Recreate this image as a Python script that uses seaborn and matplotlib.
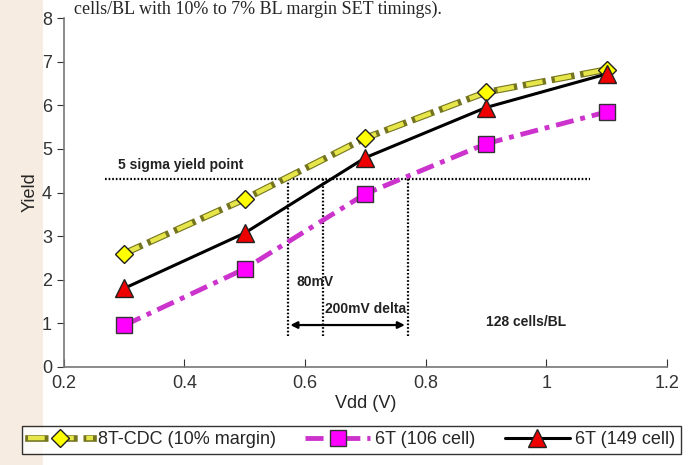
import matplotlib
matplotlib.use("Agg")
import matplotlib.pyplot as plt
from matplotlib.patches import Rectangle
import seaborn as sns
import pandas as pd

vdd = [0.3, 0.5, 0.7, 0.9, 1.1]
y_8t_cdc = [2.6, 3.85, 5.25, 6.3, 6.82]
y_6t_106 = [0.95, 2.25, 3.97, 5.12, 5.85]
y_6t_149 = [1.8, 3.07, 4.8, 5.95, 6.72]
series_names = ["8T-CDC (10% margin)", "6T (106 cell)", "6T (149 cell)"]

sigma_level = 4.3
v_marks = [0.571, 0.63, 0.77]
x_ticks = [0.2, 0.4, 0.6, 0.8, 1.0, 1.2]
x_ticklabels = ["0.2", "0.4", "0.6", "0.8", "1", "1.2"]
y_ticks = [0, 1, 2, 3, 4, 5, 6, 7, 8]

sns.set_style("white")
plt.rcParams["font.family"] = ["Liberation Sans", "DejaVu Sans"]
plt.rcParams["lines.scale_dashes"] = False

fig = plt.figure(figsize=(7, 4.65), dpi=100)
fig.patch.set_facecolor("white")
fig.add_artist(Rectangle((0, 0), 0.062, 1, transform=fig.transFigure,
                         facecolor="#f7ece1", edgecolor="none", zorder=0))
fig.text(0.105, 0.999, "cells/BL with 10% to 7% BL margin SET timings).",
         family=["Liberation Serif", "DejaVu Serif"], fontsize=13, va="top", ha="left")

ax = fig.add_axes([0.091, 0.211, 0.862, 0.75])
ax.set_facecolor("white")

df = pd.DataFrame({"Vdd": vdd * 3,
                   "Yield": y_8t_cdc + y_6t_106 + y_6t_149,
                   "series": [series_names[0]] * 5 + [series_names[1]] * 5 + [series_names[2]] * 5})

d0 = df[df.series == series_names[0]]
d1 = df[df.series == series_names[1]]
d2 = df[df.series == series_names[2]]

yellow_dash = (0, (12, 9))

# olive outline under the yellow dashes
sns.lineplot(data=d0, x="Vdd", y="Yield", ax=ax, color="#75751f", lw=4.8, legend=False, zorder=3.8)
under = ax.lines[-1]
under.set_linestyle(yellow_dash)
under.set_dash_capstyle("projecting")

sns.lineplot(data=d0, x="Vdd", y="Yield", ax=ax, color="#e6e64a", lw=3.2,
             marker="D", markersize=9.5, markerfacecolor="#ffff00", markeredgecolor="#222222",
             markeredgewidth=1.0, legend=False, zorder=4)
l0 = ax.lines[-1]
l0.set_linestyle(yellow_dash)
l0.set_dash_capstyle("butt")

sns.lineplot(data=d1, x="Vdd", y="Yield", ax=ax, color="#cc33cc", lw=3.5,
             marker="s", markersize=11, markerfacecolor="#ff00ff", markeredgecolor="#333333",
             markeredgewidth=1.0, legend=False, zorder=4)
l1 = ax.lines[-1]
l1.set_linestyle((0, (13, 5, 3.5, 5)))
l1.set_dash_capstyle("butt")

sns.lineplot(data=d2, x="Vdd", y="Yield", ax=ax, color="black", lw=2.2,
             marker="^", markersize=12.5, markerfacecolor="#ee0000", markeredgecolor="#222222",
             markeredgewidth=1.0, legend=False, zorder=5)
l2 = ax.lines[-1]

# annotations
ax.hlines(sigma_level, 0.268, 1.072, colors="black", linestyles=(0, (1.2, 1.4)), lw=1.6, zorder=3)
ax.vlines(v_marks, 0.7, sigma_level, colors="black", linestyles=(0, (1.2, 1.4)), lw=1.6, zorder=3)
ax.text(0.29, 4.48, "5 sigma yield point", fontsize=10, fontweight="bold", ha="left",
        va="bottom", color="#222222")
ax.text(0.585, 1.95, "80mV", fontsize=10, fontweight="bold", ha="left", va="center", color="#222222")
ax.text(0.633, 1.32, "200mV delta", fontsize=10, fontweight="bold", ha="left", va="center",
        color="#222222")
ax.annotate("", xy=(v_marks[0], 0.96), xytext=(v_marks[2], 0.96),
            arrowprops=dict(arrowstyle="<|-|>", color="black", lw=1.6, mutation_scale=10))
ax.text(0.9, 1.03, "128 cells/BL", fontsize=10, fontweight="bold", ha="left", va="center",
        color="#222222")

ax.set_xlim(0.2, 1.2)
ax.set_ylim(0, 8)
ax.set_xticks(x_ticks)
ax.set_xticklabels(x_ticklabels)
ax.set_yticks(y_ticks)
ax.tick_params(axis="x", direction="in", length=6, labelsize=13, colors="#333333", pad=6, bottom=True)
ax.tick_params(axis="y", direction="out", length=5, labelsize=13, colors="#333333", left=True)
for s in ["top", "right"]:
    ax.spines[s].set_visible(False)
for s in ["left", "bottom"]:
    ax.spines[s].set_color("#777777")
    ax.spines[s].set_linewidth(1.2)
ax.set_xlabel("Vdd (V)", fontsize=13, labelpad=2)
ax.set_ylabel("Yield", fontsize=13, labelpad=2)

handles = [(under, l0), l1, l2]
leg = fig.legend(handles, series_names, loc="center", bbox_to_anchor=(0.502, 0.054),
                 ncol=3, frameon=True, fancybox=False, edgecolor="black", fontsize=13,
                 handlelength=3.6, columnspacing=1.6, borderpad=0.3, handletextpad=0.3)
leg.get_frame().set_linewidth(1.0)

fig.savefig("out.png", dpi=100)
